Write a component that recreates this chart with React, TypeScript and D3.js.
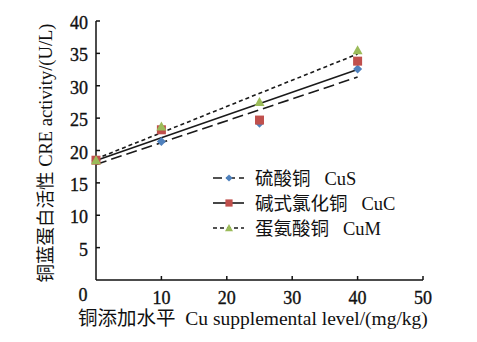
import React from "react";
import * as d3 from "d3";

const levels = [0, 10, 25, 40];
const cuS = [18.5, 21.4, 24.2, 32.6];
const cuC = [18.5, 23.2, 24.7, 33.8];
const cuM = [18.5, 23.7, 27.5, 35.5];
const seriesCn = ["硫酸铜", "碱式氯化铜", "蛋氨酸铜"];
const seriesEn = ["CuS", "CuC", "CuM"];
const xTicks = [10, 20, 30, 40, 50];
const yTicks = [5, 10, 15, 20, 25, 30, 35, 40];

const W = 477, H = 342;
const FONT = "'Liberation Serif', 'Times New Roman', 'Noto Sans CJK SC', serif";

function fit(xs: number[], ys: number[]) {
  const mx = d3.mean(xs)!, my = d3.mean(ys)!;
  let sxy = 0, sxx = 0;
  xs.forEach((x, i) => { sxy += (x - mx) * (ys[i] - my); sxx += (x - mx) ** 2; });
  const b = sxy / sxx;
  return { a: my - b * mx, b };
}

export default function App() {
  const x = d3.scaleLinear().domain([0, 50]).range([96, 423]);
  const y = d3.scaleLinear().domain([0, 40]).range([280, 21]);
  const series = [
    { vals: cuS, color: "#4f81bd", dash: "11,5", shape: "diamond" },
    { vals: cuC, color: "#c0504d", dash: "", shape: "square" },
    { vals: cuM, color: "#9bbb59", dash: "4,3", shape: "triangle" },
  ];
  const marker = (shape: string, cx: number, cy: number, color: string, s = 1) => {
    if (shape === "diamond") {
      const r = 4.5 * s;
      return <path d={`M${cx},${cy - r}L${cx + r},${cy}L${cx},${cy + r}L${cx - r},${cy}Z`} fill={color} />;
    }
    if (shape === "square") {
      const r = 4.5 * s;
      return <rect x={cx - r} y={cy - r} width={2 * r} height={2 * r} fill={color} />;
    }
    const r = 5 * s;
    return <path d={`M${cx},${cy - r}L${cx + r},${cy + r * 0.8}L${cx - r},${cy + r * 0.8}Z`} fill={color} />;
  };
  const line = d3.line<number[]>().x((d) => x(d[0])).y((d) => y(d[1]));
  const thick = { stroke: "#111", strokeWidth: 0.35 };
  return (
    <svg width={W} height={H} style={{ position: "absolute", left: 0, top: 0, background: "#fff" }} fontFamily={FONT}>
      <rect width={W} height={H} fill="#fff" />
      <line x1={x(0)} x2={x(0)} y1={y(40)} y2={y(0)} stroke="#111" strokeWidth={1.5} />
      <line x1={x(0)} x2={x(50)} y1={y(0)} y2={y(0)} stroke="#111" strokeWidth={1.5} />
      {yTicks.map((t) => (
        <g key={"y" + t}>
          <line x1={x(0)} x2={x(0) + 4} y1={y(t)} y2={y(t)} stroke="#111" strokeWidth={1.5} />
          <text x={88} y={y(t)} dy="0.45em" textAnchor="end" fontSize={18} fill="#111" {...thick}>{t}</text>
        </g>
      ))}
      {xTicks.map((t) => (
        <g key={"x" + t}>
          <line x1={x(t)} x2={x(t)} y1={y(0)} y2={y(0) - 4} stroke="#111" strokeWidth={1.5} />
          <text x={x(t)} y={304} textAnchor="middle" fontSize={18} fill="#111" {...thick}>{t}</text>
        </g>
      ))}
      <text x={83} y={301} textAnchor="middle" fontSize={18} fill="#111" {...thick}>0</text>
      {series.map((s, i) => {
        const f = fit(levels, s.vals);
        return (
          <path key={"t" + i}
            d={line([[0, f.a], [40, f.a + 40 * f.b]])!}
            fill="none" stroke="#1a1a1a" strokeWidth={1.6} strokeDasharray={s.dash} />
        );
      })}
      {series.map((s, i) => (
        <g key={"m" + i}>
          {levels.map((lv, j) => (
            <g key={j}>{marker(s.shape, x(lv), y(s.vals[j]), s.color)}</g>
          ))}
        </g>
      ))}
      {series.map((s, i) => {
        const ly = 178 + i * 25;
        return (
          <g key={"l" + i}>
            <line x1={213} x2={244} y1={ly} y2={ly} stroke="#1a1a1a" strokeWidth={1.6}
              strokeDasharray={i === 0 ? "9,4" : i === 2 ? "4,3" : ""} />
            {marker(s.shape, 229, ly, s.color, 0.8)}
            <text x={255} y={ly} dy="0.38em" fontSize={18.5} fill="#111" style={{ whiteSpace: "pre" }}>
              {seriesCn[i] + "   " + seriesEn[i]}
            </text>
          </g>
        );
      })}
      <text transform="translate(46,153) rotate(-90)" textAnchor="middle" dy="0.35em" fontSize={18.5} fill="#111">
        铜蓝蛋白活性 CRE activity/(U/L)
      </text>
      <text x={78} y={325} fontSize={19.5} fill="#111" style={{ whiteSpace: "pre" }}>
        {"铜添加水平  Cu supplemental level/(mg/kg)"}
      </text>
    </svg>
  );
}
